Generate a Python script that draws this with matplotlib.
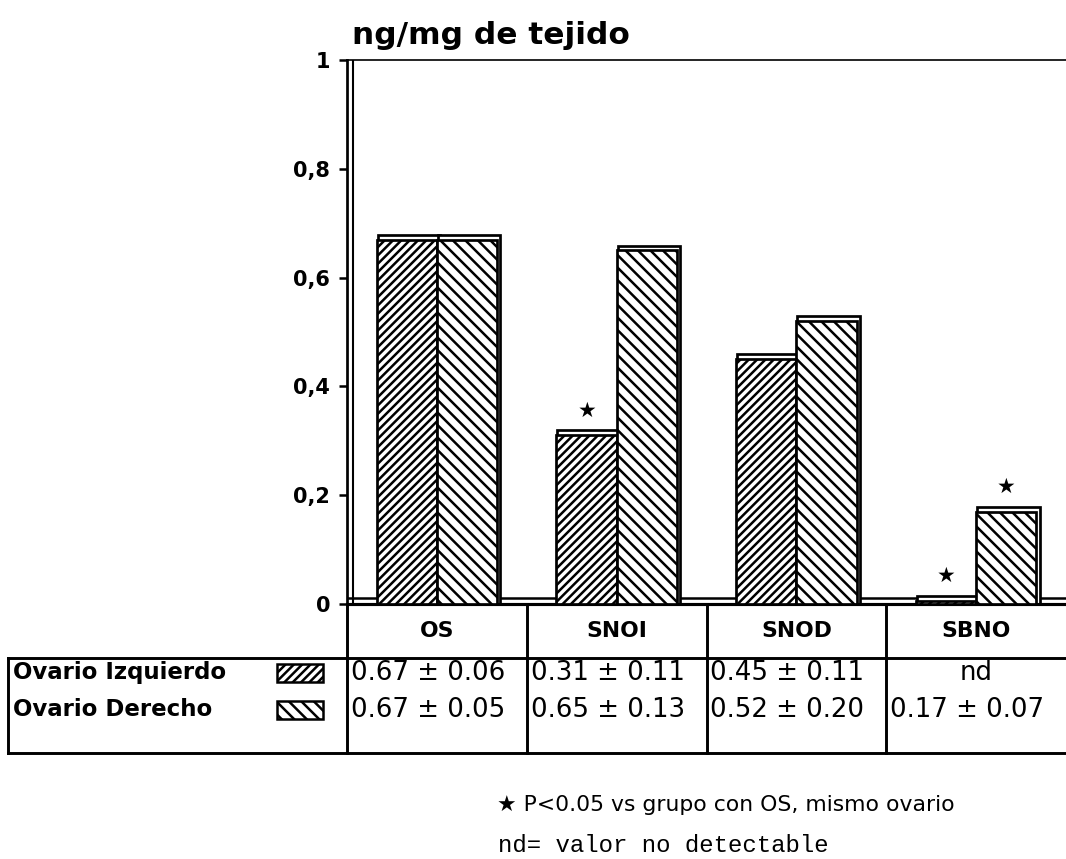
import matplotlib
matplotlib.use("Agg")
import matplotlib.pyplot as plt
from matplotlib.patches import Rectangle
import numpy as np

# data
categories = ["OS", "SNOI", "SNOD", "SBNO"]
izquierdo = [0.67, 0.31, 0.45, 0.006]   # SBNO = nd, drawn as a flat slab
derecho = [0.67, 0.65, 0.52, 0.17]
izq_text = ["0.67 \u00b1 0.06", "0.31 \u00b1 0.11", "0.45 \u00b1 0.11", "nd"]
der_text = ["0.67 \u00b1 0.05", "0.65 \u00b1 0.13", "0.52 \u00b1 0.20", "0.17 \u00b1 0.07"]
star_izq = [False, True, False, True]
star_der = [False, False, False, True]
yticks = [0, 0.2, 0.4, 0.6, 0.8, 1]
ytick_labels = ["0", "0,2", "0,4", "0,6", "0,8", "1"]

W, H, DPI = 1066, 859, 150
plt.rcParams["hatch.linewidth"] = 1.2
fig = plt.figure(figsize=(W / DPI, H / DPI), dpi=DPI)

HATCH_IZQ = "/" * 6
HATCH_DER = "\\" * 4

# main bar axes, placed in pixel terms
left_px, right_px, bot_px, top_px = 347, 1066, 604, 60
ax = fig.add_axes([left_px / W, 1 - bot_px / H, (right_px - left_px) / W, (bot_px - top_px) / H])
ax.set_xlim(0, 4)
ax.set_ylim(0, 1)

x = np.arange(len(categories)) + 0.5
bw = 0.335

def draw_bars(xpos, vals, hatch):
    # offset white frame gives the raised look of the original
    ax.bar(xpos + 0.012, [v + 0.009 for v in vals], bw + 0.012, align="center",
           color="white", edgecolor="black", linewidth=1.3, zorder=2)
    ax.bar(xpos, vals, bw, align="center", color="white", edgecolor="black",
           hatch=hatch, linewidth=1.3, zorder=3)

draw_bars(x - bw / 2, izquierdo, HATCH_IZQ)
draw_bars(x + bw / 2, derecho, HATCH_DER)

for i in range(len(categories)):
    if star_izq[i]:
        ax.text(x[i] - bw / 2, izquierdo[i] + 0.045, "\u2605", ha="center", va="center",
                fontsize=10, zorder=4)
    if star_der[i]:
        ax.text(x[i] + bw / 2, derecho[i] + 0.045, "\u2605", ha="center", va="center",
                fontsize=10, zorder=4)

# floor line and doubled y axis
ax.axhline(0.011, color="black", lw=1.2, zorder=1)
ax.axvline(0.035, ymin=0, ymax=1, color="black", lw=1.0, zorder=1)

ax.spines["right"].set_visible(False)
ax.spines["top"].set_linewidth(0.8)
ax.spines["left"].set_linewidth(1.3)
ax.spines["bottom"].set_linewidth(1.5)
ax.set_xticks([])
ax.set_yticks(yticks)
ax.set_yticklabels(ytick_labels, fontsize=10, fontweight="bold")
ax.tick_params(axis="y", direction="out", length=4, width=1.2, pad=4)

# title above the axis
fig.text(352 / W, 1 - 35 / H, "ng/mg de tejido", fontsize=15, fontweight="bold",
         ha="left", va="center")

# overlay in pixel coordinates for the table and notes
ov = fig.add_axes([0, 0, 1, 1], zorder=-1)
ov.set_xlim(0, W)
ov.set_ylim(H, 0)
ov.axis("off")

cols = [left_px + i * (right_px - left_px) / 4 for i in range(5)]
row_top, row_mid, row_bot = 604, 658, 753
lw = 1.4
for c in cols[:4]:
    ov.plot([c, c], [row_top, row_bot], color="black", lw=lw)
ov.plot([8, W], [row_mid, row_mid], color="black", lw=lw)
ov.plot([8, W], [row_bot, row_bot], color="black", lw=lw)
ov.plot([8, 8], [row_mid, row_bot], color="black", lw=lw)

y1, y2 = 673, 710
for i, cat in enumerate(categories):
    cx = (cols[i] + cols[i + 1]) / 2
    ov.text(cx, 631, cat, ha="center", va="center", fontsize=10.5, fontweight="bold")
    if izq_text[i] == "nd":
        ov.text(cx, y1, izq_text[i], ha="center", va="center", fontsize=12.5)
    else:
        ov.text(cols[i] + 4, y1, izq_text[i], ha="left", va="center", fontsize=12.5)
    ov.text(cols[i] + 4, y2, der_text[i], ha="left", va="center", fontsize=12.5)

# legend rows
ov.text(13, y1, "Ovario Izquierdo", ha="left", va="center", fontsize=11, fontweight="bold")
ov.text(13, y2, "Ovario Derecho", ha="left", va="center", fontsize=11, fontweight="bold")
ov.add_patch(Rectangle((277, y1 - 9), 46, 18, facecolor="white", edgecolor="black",
                       hatch=HATCH_IZQ, lw=1.2))
ov.add_patch(Rectangle((277, y2 - 9), 46, 18, facecolor="white", edgecolor="black",
                       hatch=HATCH_DER, lw=1.2))

# footnotes
ov.text(497, 805, "\u2605 P<0.05 vs grupo con OS, mismo ovario", ha="left", va="center",
        fontsize=10.5)
ov.text(498, 846, "nd= valor no detectable", ha="left", va="center", fontsize=11.5,
        family="Liberation Mono")

fig.savefig("out.png", dpi=DPI)
